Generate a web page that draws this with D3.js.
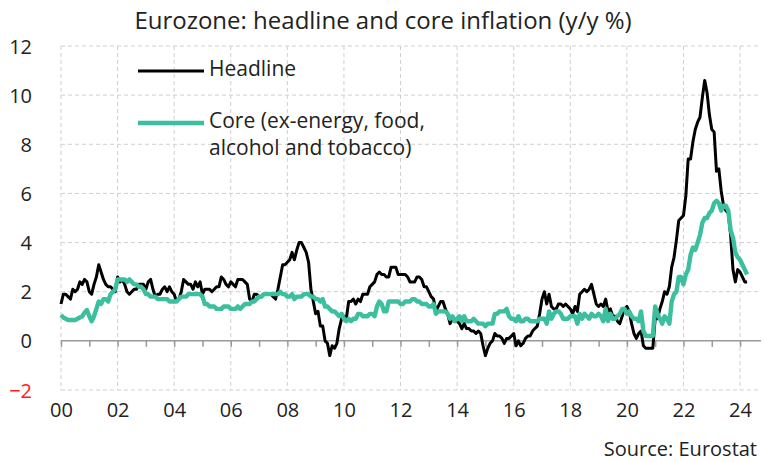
<!DOCTYPE html>
<html>
<head>
<meta charset="utf-8">
<script src="https://cdn.jsdelivr.net/npm/d3@7"></script>
<style>
  body { margin: 0; background: #fff; }
  svg text { font-family: "Open Sans", "Noto Sans", sans-serif; fill: #222; }
</style>
</head>
<body>
<div id="chart"></div>
<script>
// monthly y/y %, Jan 2000 - Apr 2024
var startYear = 2000;

var headline = [
  1.5, 1.9, 1.9, 1.8, 1.7, 2.1, 2.0, 2.1, 2.4, 2.3, 2.5, 2.4,
  2.0, 1.9, 2.3, 2.6, 3.1, 2.8, 2.5, 2.3, 2.2, 2.2, 2.1, 2.0,
  2.6, 2.4, 2.5, 2.3, 2.0, 1.9, 2.0, 2.1, 2.1, 2.3, 2.3, 2.3,
  2.1, 2.4, 2.5, 2.1, 1.8, 1.9, 1.9, 2.1, 2.2, 2.0, 2.2, 2.0,
  1.9, 1.6, 1.7, 2.0, 2.5, 2.4, 2.3, 2.3, 2.1, 2.4, 2.2, 2.4,
  1.9, 2.1, 2.1, 2.1, 2.0, 2.1, 2.2, 2.2, 2.6, 2.5, 2.3, 2.2,
  2.4, 2.3, 2.2, 2.5, 2.5, 2.5, 2.4, 2.3, 1.7, 1.6, 1.9, 1.9,
  1.8, 1.8, 1.9, 1.9, 1.9, 1.9, 1.8, 1.7, 2.1, 2.6, 3.1, 3.1,
  3.2, 3.3, 3.6, 3.3, 3.7, 4.0, 4.0, 3.8, 3.6, 3.2, 2.1, 1.6,
  1.1, 1.2, 0.6, 0.6, 0.0, -0.1, -0.6, -0.2, -0.3, -0.1, 0.5, 0.9,
  1.0, 0.9, 1.6, 1.6, 1.7, 1.5, 1.7, 1.6, 1.9, 1.9, 1.9, 2.2,
  2.3, 2.4, 2.7, 2.8, 2.7, 2.7, 2.6, 2.6, 3.0, 3.0, 3.0, 2.7,
  2.7, 2.7, 2.7, 2.6, 2.4, 2.4, 2.4, 2.6, 2.6, 2.5, 2.2, 2.2,
  2.0, 1.8, 1.7, 1.2, 1.4, 1.6, 1.6, 1.3, 1.1, 0.7, 0.9, 0.8,
  0.8, 0.7, 0.5, 0.7, 0.5, 0.5, 0.4, 0.4, 0.3, 0.4, 0.3, -0.2,
  -0.6, -0.3, -0.1, 0.0, 0.3, 0.2, 0.2, 0.1, -0.1, 0.1, 0.1, 0.2,
  0.3, -0.2, 0.0, -0.2, -0.1, 0.1, 0.2, 0.2, 0.4, 0.5, 0.6, 1.1,
  1.7, 2.0, 1.5, 1.9, 1.4, 1.3, 1.3, 1.5, 1.5, 1.4, 1.5, 1.4,
  1.3, 1.1, 1.4, 1.2, 1.9, 2.0, 2.1, 2.0, 2.1, 2.3, 1.9, 1.5,
  1.4, 1.5, 1.4, 1.7, 1.2, 1.3, 1.0, 1.0, 0.8, 0.7, 1.0, 1.3,
  1.4, 1.2, 0.7, 0.3, 0.1, 0.3, 0.4, -0.2, -0.3, -0.3, -0.3, -0.3,
  0.9, 0.9, 1.3, 1.6, 2.0, 1.9, 2.2, 3.0, 3.4, 4.1, 4.9, 5.0,
  5.1, 5.9, 7.4, 7.4, 8.1, 8.6, 8.9, 9.1, 9.9, 10.6, 10.1, 9.2,
  8.6, 8.5, 6.9, 7.0, 6.1, 5.5, 5.3, 5.2, 4.3, 2.9, 2.4, 2.9,
  2.8, 2.6, 2.4, 2.4
];

var core = [
  1.05, 0.95, 0.9, 0.85, 0.85, 0.85, 0.85, 0.9, 0.95, 1.0, 1.15, 1.25,
  1.0, 0.8, 1.0, 1.3, 1.6, 1.5, 1.7, 1.7, 1.6, 1.9, 2.0, 2.1,
  2.5, 2.5, 2.5, 2.5, 2.4, 2.5, 2.4, 2.3, 2.3, 2.2, 2.2, 2.1,
  1.9, 1.9, 1.8, 1.8, 1.8, 1.7, 1.7, 1.7, 1.7, 1.7, 1.6, 1.6,
  1.6, 1.6, 1.7, 1.8, 1.8, 1.8, 1.9, 1.9, 1.9, 1.9, 1.9, 1.9,
  1.8, 1.5, 1.5, 1.4, 1.4, 1.4, 1.3, 1.3, 1.3, 1.4, 1.4, 1.4,
  1.3, 1.3, 1.3, 1.4, 1.3, 1.4, 1.5, 1.5, 1.5, 1.6, 1.6, 1.7,
  1.8, 1.8, 1.9, 1.9, 1.9, 1.9, 1.9, 1.9, 1.9, 2.0, 1.9, 1.9,
  1.8, 1.8, 1.9, 1.7, 1.8, 1.8, 1.8, 1.9, 1.9, 1.9, 1.8, 1.8,
  1.7, 1.7, 1.6, 1.7, 1.4, 1.4, 1.3, 1.2, 1.2, 1.1, 1.0, 1.1,
  0.9, 0.8, 0.9, 0.8, 0.9, 0.9, 1.1, 1.1, 1.0, 1.0, 1.0, 1.1,
  1.1, 1.0, 1.4, 1.6, 1.5, 1.2, 1.2, 1.6, 1.6, 1.6, 1.6, 1.6,
  1.5, 1.5, 1.6, 1.6, 1.6, 1.7, 1.7, 1.6, 1.6, 1.5, 1.5, 1.5,
  1.4, 1.4, 1.5, 1.1, 1.2, 1.2, 1.2, 1.2, 1.1, 0.9, 1.0, 0.8,
  0.9, 1.0, 0.8, 1.0, 0.8, 0.8, 0.8, 0.9, 0.8, 0.7, 0.7, 0.7,
  0.6, 0.7, 0.7, 0.7, 1.1, 1.1, 1.2, 1.2, 1.2, 1.3, 1.0, 0.9,
  0.9, 0.8, 1.0, 0.8, 0.8, 0.9, 0.9, 0.8, 0.8, 0.8, 0.8, 0.9,
  0.9, 0.9, 0.7, 1.2, 0.9, 1.1, 1.2, 1.2, 1.1, 0.9, 0.9, 0.9,
  1.0, 1.0, 1.0, 0.7, 1.1, 0.9, 1.1, 1.0, 0.9, 1.1, 1.0, 1.0,
  1.1, 1.0, 0.8, 1.3, 0.8, 1.1, 0.9, 0.9, 1.0, 1.1, 1.3, 1.3,
  1.1, 1.2, 1.0, 0.9, 0.9, 0.8, 1.2, 0.4, 0.2, 0.2, 0.2, 0.2,
  1.4, 1.1, 0.9, 0.7, 1.0, 0.9, 0.7, 1.6, 1.9, 2.0, 2.6, 2.6,
  2.3, 2.7, 2.9, 3.5, 3.8, 3.7, 4.0, 4.3, 4.8, 5.0, 5.0, 5.2,
  5.3, 5.6, 5.7, 5.6, 5.3, 5.5, 5.5, 5.3, 4.5, 4.2, 3.6, 3.4,
  3.3, 3.1, 2.9, 2.7
];

var yTicks = [-2, 0, 2, 4, 6, 8, 10, 12];
var xTickYears = [2000, 2002, 2004, 2006, 2008, 2010, 2012, 2014, 2016, 2018, 2020, 2022, 2024];
var xTickLabels = ["00", "02", "04", "06", "08", "10", "12", "14", "16", "18", "20", "22", "24"];
var seriesNames = ["Headline", "Core (ex-energy, food,|alcohol and tobacco)"];

var width = 764, height = 462;
var margin = {top: 46, right: 3, bottom: 72, left: 61};

var svg = d3.select("#chart").append("svg")
    .attr("width", width)
    .attr("height", height);

var x = d3.scaleLinear()
    .domain([2000, 2024.74])
    .range([margin.left, width - margin.right]);

var y = d3.scaleLinear()
    .domain([-2, 12])
    .range([height - margin.bottom, margin.top]);

// title
svg.append("text")
    .attr("x", 383)
    .attr("y", 29)
    .attr("text-anchor", "middle")
    .style("font-size", "24px")
    .text("Eurozone: headline and core inflation (y/y %)");

// gridlines
var grid = svg.append("g").attr("class", "grid");
grid.selectAll("line.h")
    .data(yTicks.filter(function(d) { return d !== 0; }))
    .enter().append("line")
    .attr("x1", margin.left)
    .attr("x2", width - margin.right)
    .attr("y1", function(d) { return y(d); })
    .attr("y2", function(d) { return y(d); })
    .attr("stroke", "#cfcfcf")
    .attr("stroke-dasharray", "4,3");

grid.selectAll("line.v")
    .data(xTickYears)
    .enter().append("line")
    .attr("x1", function(d) { return x(d); })
    .attr("x2", function(d) { return x(d); })
    .attr("y1", y(12))
    .attr("y2", y(-2))
    .attr("stroke", "#cfcfcf")
    .attr("stroke-dasharray", "4,3");

// y axis labels
var yAxis = svg.append("g")
    .attr("transform", "translate(" + (margin.left - 4) + ",0)")
    .call(d3.axisLeft(y).tickValues(yTicks).tickSize(0).tickPadding(25));
yAxis.select(".domain").remove();
yAxis.selectAll("text")
    .style("font-size", "20px")
    .attr("dy", "0.35em")
    .style("fill", function(d) { return d < 0 ? "#ff1a1a" : "#222"; });

// zero line with yearly ticks
var years = d3.range(2000, 2025);
var zeroAxis = svg.append("g")
    .attr("transform", "translate(0," + y(0) + ")")
    .call(d3.axisBottom(x).tickValues(years).tickSize(6).tickFormat(""));
zeroAxis.select(".domain")
    .attr("stroke", "#999")
    .attr("stroke-width", 1.5)
    .attr("d", "M" + margin.left + ",0H" + (width - margin.right));
zeroAxis.selectAll(".tick line").attr("stroke", "#999").attr("stroke-width", 1.5);

// x labels
var xAxis = svg.append("g")
    .attr("transform", "translate(0," + y(-2) + ")")
    .call(d3.axisBottom(x).tickValues(xTickYears).tickSize(0).tickPadding(13)
        .tickFormat(function(d, i) { return xTickLabels[i]; }));
xAxis.select(".domain").remove();
xAxis.selectAll("text").style("font-size", "20px").style("fill", "#222");

// lines
var line = d3.line()
    .x(function(d, i) { return x(startYear + i / 12); })
    .y(function(d) { return y(d); });

svg.append("path")
    .datum(headline)
    .attr("d", line)
    .attr("fill", "none")
    .attr("stroke", "#000")
    .attr("stroke-width", 3)
    .attr("stroke-linejoin", "round");

svg.append("path")
    .datum(core)
    .attr("d", line)
    .attr("fill", "none")
    .attr("stroke", "#3bbf9e")
    .attr("stroke-width", 4.4)
    .attr("stroke-linejoin", "round");

// legend
var legendColors = ["#000", "#3bbf9e"];
var legendWidths = [3.2, 4.4];
var legendY = [71, 123];
var legend = svg.selectAll(".legend")
    .data(seriesNames)
    .enter().append("g")
    .attr("class", "legend")
    .attr("transform", function(d, i) { return "translate(0," + legendY[i] + ")"; });

legend.append("line")
    .attr("x1", 138).attr("x2", 204)
    .attr("stroke", function(d, i) { return legendColors[i]; })
    .attr("stroke-width", function(d, i) { return legendWidths[i]; });

legend.append("text")
    .attr("x", 209)
    .style("font-size", "21px")
    .each(function(d) {
        var parts = d.split("|");
        var t = d3.select(this);
        parts.forEach(function(p, j) {
            t.append("tspan")
                .attr("x", 209)
                .attr("y", j * 27 - 2)
                .attr("dy", "0.35em")
                .text(p);
        });
    });

// source
svg.append("text")
    .attr("x", 757)
    .attr("y", 456)
    .attr("text-anchor", "end")
    .style("font-size", "20px")
    .text("Source: Eurostat");
</script>
</body>
</html>
